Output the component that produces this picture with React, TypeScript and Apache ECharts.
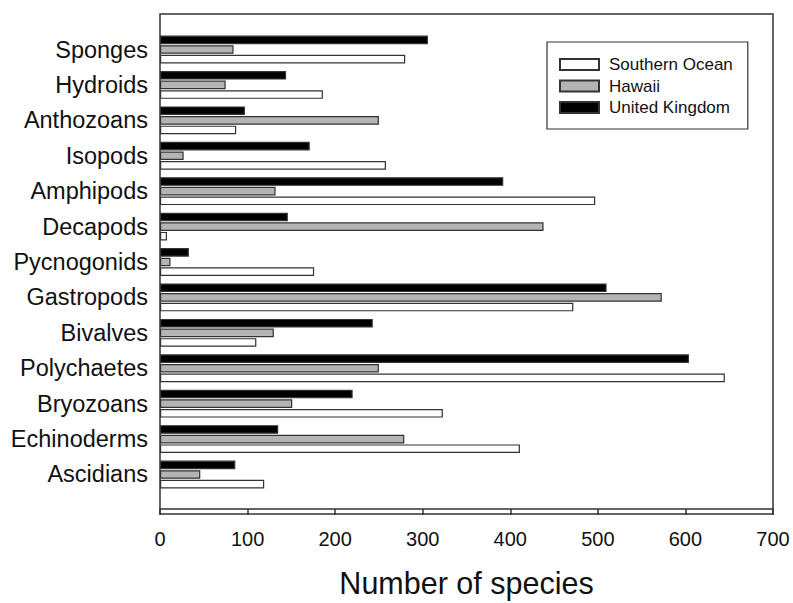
import React, { useEffect, useRef } from "react";
import * as echarts from "echarts";

const categories = [
  "Sponges", "Hydroids", "Anthozoans", "Isopods", "Amphipods", "Decapods",
  "Pycnogonids", "Gastropods", "Bivalves", "Polychaetes", "Bryozoans",
  "Echinoderms", "Ascidians",
];
const southernOcean = [280, 186, 87, 258, 497, 8, 176, 472, 110, 645, 323, 411, 119];
const hawaii = [84, 75, 250, 27, 132, 438, 12, 573, 130, 250, 151, 279, 46];
const unitedKingdom = [306, 144, 97, 171, 392, 146, 33, 510, 243, 604, 220, 135, 86];
const xTicks = { min: 0, max: 700, interval: 100 };

const FONT = "'Liberation Sans', Arial, Helvetica, sans-serif";

export default function App() {
  const ref = useRef<HTMLDivElement>(null);
  useEffect(() => {
    if (!ref.current) return;
    const chart = echarts.init(ref.current, undefined, { renderer: "svg" });
    const border = "#333";
    const mk = (name: string, data: number[], color: string) => ({
      name,
      type: "bar",
      data,
      barWidth: 8.6,
      barGap: "12%",
      itemStyle: { color, borderColor: border, borderWidth: 1.2 },
    });
    chart.setOption({
      animation: false,
      backgroundColor: "#fff",
      textStyle: { fontFamily: FONT },
      grid: { left: 160, right: 20, top: 31.8, height: 465.4, containLabel: false },
      legend: {
        orient: "vertical",
        left: 547,
        top: 42,
        data: ["Southern Ocean", "Hawaii", "United Kingdom"],
        icon: "rect",
        itemWidth: 39,
        itemHeight: 11,
        itemGap: 4.5,
        padding: [14, 15, 13, 12],
        borderColor: "#333",
        borderWidth: 1.2,
        textStyle: { fontFamily: FONT, fontSize: 17, color: "#111", padding: [0, 0, 0, 5] },
      },
      xAxis: {
        type: "value",
        min: xTicks.min,
        max: xTicks.max,
        interval: xTicks.interval,
        offset: 16.8,
        splitLine: { show: false },
        axisLine: { show: true, lineStyle: { color: "#333", width: 1.5 } },
        axisTick: { show: true, length: 6, lineStyle: { color: "#333", width: 1.5 } },
        axisLabel: { fontFamily: FONT, fontSize: 20, color: "#111", margin: 20 },
        name: "Number of species",
        nameLocation: "middle",
        nameGap: 58,
        nameTextStyle: { fontFamily: FONT, fontSize: 30.5, color: "#111" },
      },
      yAxis: {
        type: "category",
        data: categories,
        inverse: true,
        axisLine: { show: false },
        axisTick: { show: false },
        axisLabel: { fontFamily: FONT, fontSize: 23.5, color: "#111", margin: 12 },
      },
      graphic: [
        {
          type: "rect",
          shape: { x: 160, y: 14, width: 613, height: 500 },
          style: { fill: "none", stroke: "#333", lineWidth: 1.5 },
          silent: true,
          z: 10,
        },
      ],
      series: [
        mk("United Kingdom", unitedKingdom, "#000"),
        mk("Hawaii", hawaii, "#b4b4b4"),
        mk("Southern Ocean", southernOcean, "#fff"),
      ],
    });
    return () => chart.dispose();
  }, []);
  return (
    <div
      ref={ref}
      style={{ position: "fixed", left: 0, top: 0, width: 793, height: 603 }}
    />
  );
}
